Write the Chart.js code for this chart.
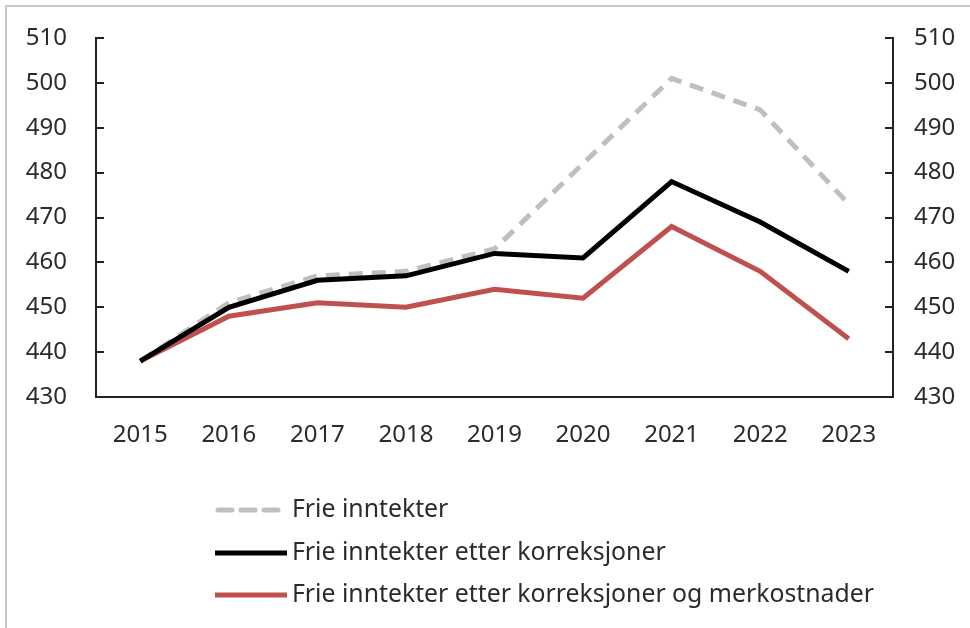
<!DOCTYPE html>
<html>
<head>
<meta charset="utf-8">
<script src="https://cdn.jsdelivr.net/npm/chart.js@4"></script>
<style>
  html, body { margin: 0; padding: 0; background: #fff; }
  #wrap { width: 970px; height: 628px; position: relative; }
</style>
</head>
<body>
<div id="wrap"><canvas id="grafico" width="970" height="628"></canvas></div>
<script>

// ----------------
/* datos */
// ----------------

const aar = ['2015', '2016', '2017', '2018', '2019', '2020', '2021', '2022', '2023']

const frieInntekter = [438, 451, 457, 458, 463, 482, 501, 494, 473]
const etterKorreksjoner = [438, 450, 456, 457, 462, 461, 478, 469, 458]
const etterMerkostnader = [438, 448, 451, 450, 454, 452, 468, 458, 443]

const yMin = 430
const yMax = 510
const yStep = 10

const navn = [
  'Frie inntekter',
  'Frie inntekter etter korreksjoner',
  'Frie inntekter etter korreksjoner og merkostnader'
]

const fuente = { family: 'Noto Sans', size: 24 }
const colorTexto = '#2b2b2b'


// ----------------
/* plugins: marco, ticks hacia dentro y leyenda */
// ----------------

const marco = {
  id: 'marco',
  beforeDraw(chart) {
    const ctx = chart.ctx
    ctx.save()
    ctx.strokeStyle = '#c8c8c8'
    ctx.lineWidth = 2
    ctx.beginPath()
    ctx.moveTo(6, chart.height)
    ctx.lineTo(6, 6)
    ctx.lineTo(chart.width, 6)
    ctx.stroke()
    ctx.restore()
  }
}

const ticksDentro = {
  id: 'ticksDentro',
  afterDraw(chart) {
    const ctx = chart.ctx
    const izq = chart.scales.y
    const der = chart.scales.y2
    ctx.save()
    ctx.strokeStyle = '#222'
    ctx.lineWidth = 2
    for (let t of izq.ticks) {
      const py = Math.round(izq.getPixelForValue(t.value))
      ctx.beginPath()
      ctx.moveTo(chart.chartArea.left, py)
      ctx.lineTo(chart.chartArea.left + 8, py)
      ctx.stroke()
    }
    for (let t of der.ticks) {
      const py = Math.round(der.getPixelForValue(t.value))
      ctx.beginPath()
      ctx.moveTo(chart.chartArea.right, py)
      ctx.lineTo(chart.chartArea.right - 8, py)
      ctx.stroke()
    }
    ctx.restore()
  }
}

const leyenda = {
  id: 'leyenda',
  afterDraw(chart) {
    const ctx = chart.ctx
    const x0 = 215
    const largo = 72
    const filas = [510, 553, 595]
    ctx.save()
    ctx.font = `24.8px "${fuente.family}"`
    ctx.textBaseline = 'middle'
    chart.data.datasets.forEach((ds, i) => {
      const y = filas[i]
      ctx.strokeStyle = ds.borderColor
      ctx.lineWidth = ds.borderWidth
      ctx.setLineDash(ds.borderDash || [])
      ctx.lineCap = ds.borderDash ? 'round' : 'butt'
      ctx.beginPath()
      ctx.moveTo(x0 + (ds.borderDash ? 3 : 0), y)
      ctx.lineTo(x0 + largo, y)
      ctx.stroke()
      ctx.setLineDash([])
      ctx.fillStyle = colorTexto
      ctx.fillText(ds.label, x0 + largo + 5, y)
    })
    ctx.restore()
  }
}


// ----------------
/* grafico */
// ----------------

const datos = {
  labels: aar,
  datasets: [{
    label: navn[0],
    data: frieInntekter,
    borderColor: '#bfbfbf',
    borderWidth: 5,
    borderDash: [14, 9],
    pointRadius: 0,
    order: 3
  }, {
    label: navn[1],
    data: etterKorreksjoner,
    borderColor: '#000000',
    borderWidth: 5,
    pointRadius: 0,
    order: 1
  }, {
    label: navn[2],
    data: etterMerkostnader,
    borderColor: '#c0504d',
    borderWidth: 5,
    pointRadius: 0,
    order: 2
  }]
}

const ejeY = (pos, pad, ancho) => ({
  type: 'linear',
  position: pos,
  display: true,
  min: yMin,
  max: yMax,
  grid: { drawOnChartArea: false, drawTicks: false },
  border: { display: true, color: '#222', width: 2 },
  ticks: {
    stepSize: yStep,
    padding: pad,
    color: colorTexto,
    font: fuente
  },
  afterFit: (s) => {
    s.width = ancho
    s.paddingTop = 0
    s.paddingBottom = 0
  }
})

const izquierda = ejeY('left', 29, 96)
const derecha = ejeY('right', 21, 77)

var grafico = new Chart(document.getElementById('grafico'), {
  type: 'line',
  data: datos,
  options: {
    responsive: false,
    animation: false,
    layout: { padding: { top: 38, bottom: 171, left: 0, right: 0 } },
    plugins: {
      legend: { display: false },
      tooltip: { enabled: false }
    },
    scales: {
      x: {
        offset: true,
        grid: { display: false, drawTicks: false },
        border: { display: true, color: '#222', width: 2 },
        ticks: { padding: 24, color: colorTexto, font: fuente, maxRotation: 0 },
        afterFit: (s) => {
          s.height = 60
          s.paddingLeft = 0
          s.paddingRight = 0
        }
      },
      y: izquierda,
      y2: derecha
    }
  },
  plugins: [marco, ticksDentro, leyenda]
})

</script>
</body>
</html>
